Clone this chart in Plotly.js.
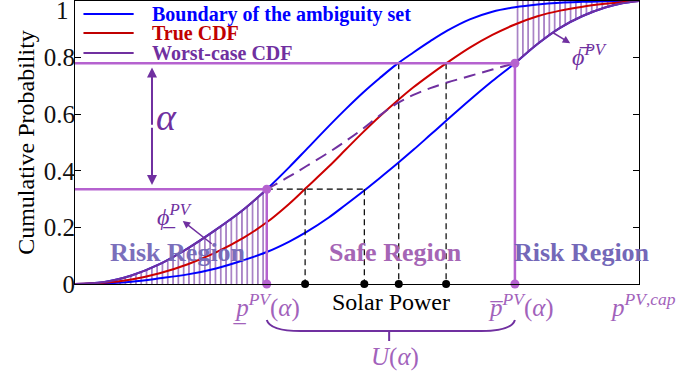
<!DOCTYPE html>
<html><head><meta charset="utf-8">
<script src="https://cdn.plot.ly/plotly-3.0.1.min.js"></script>
<style>html,body{margin:0;padding:0;background:#fff}#chart{width:681px;height:375px}</style>
</head><body><div id="chart"></div>
<script>
// ---- data ----
const powerGrid  = [0,5,10,15,20,25,30,34,38,41,45,48,51,54,57,60,63,66,70,74,78,82,86,90,94,97,100];
const upperBound = [0,0.006,0.03,0.07,0.126,0.192,0.265,0.335,0.413,0.475,0.558,0.618,0.675,0.727,0.776,0.818,0.858,0.895,0.935,0.962,0.978,0.988,0.994,0.997,0.999,1,1];
const trueCdf    = [0,0.004,0.016,0.038,0.07,0.112,0.165,0.218,0.284,0.34,0.415,0.475,0.535,0.592,0.645,0.695,0.74,0.782,0.835,0.88,0.917,0.946,0.966,0.98,0.99,0.996,1];
const lowerBound = [0,0.002,0.008,0.02,0.034,0.055,0.085,0.113,0.15,0.183,0.235,0.28,0.326,0.374,0.423,0.474,0.527,0.58,0.65,0.717,0.78,0.848,0.905,0.947,0.977,0.992,1];
const worstX     = [34,38,41,45,48,51,54,57,60,63,66,70,74,78];
const worstMid   = [0.335,0.38,0.416,0.465,0.505,0.548,0.595,0.637,0.668,0.692,0.712,0.735,0.758,0.78];
const alphaLow = 0.335, alphaHigh = 0.78;
const pLow = 34, pHigh = 78, pCap = 100;
const guideX     = [40.8, 51.3, 57.4, 65.8];
const guideLevel = [0.335, 0.335, 0.78, 0.78];
const yTickVals  = [0, 0.2, 0.4, 0.6, 0.8, 1];
const yTickText  = ['0', '0.2', '0.4', '0.6', '0.8', '1'];
const legendNames = ['Boundary of the ambiguity set', 'True CDF', 'Worst-case CDF'];

// ---- styles ----
const SERIF = '"Liberation Serif", "Times New Roman", serif';
const BLUE = '#0000ff', RED = '#cc0000', PURPLE = '#7030a0', ORCHID = '#b562cf';
const RISK = '#7468b8', SAFE = '#a565b5', LABEL = '#a262bb';
const legendColors = ['#0000ff', '#c00000', '#7030a0'];
const UNDER = '\u0332', OVER = '\u0305';

const iLow = powerGrid.indexOf(pLow), iHigh = powerGrid.indexOf(pHigh);
const leftX = powerGrid.slice(0, iLow + 1), leftY = upperBound.slice(0, iLow + 1);
const rightX = powerGrid.slice(iHigh), rightY = lowerBound.slice(iHigh);
const topEdge = rightX.map(() => yTickVals[yTickVals.length - 1]);

const hatch = {shape: '|', size: 5.3, solidity: 0.2, fgcolor: PURPLE, fgopacity: 1, bgcolor: 'rgba(0,0,0,0)'};
const sp = {shape: 'spline', smoothing: 1};

const gx = [], gy = [];
guideX.forEach((g, i) => { gx.push(g, g, null); gy.push(guideLevel[i], 0, null); });

const traces = [
  {x: leftX, y: leftY, mode: 'lines', line: Object.assign({width: 0}, sp), fill: 'tozeroy',
   fillcolor: 'rgba(0,0,0,0)', fillpattern: hatch, hoverinfo: 'skip'},
  {x: rightX.concat(rightX.slice().reverse()), y: rightY.concat(topEdge), mode: 'lines',
   line: {width: 0}, fill: 'toself', fillcolor: 'rgba(0,0,0,0)', fillpattern: hatch, hoverinfo: 'skip'},
  {x: powerGrid, y: upperBound, mode: 'lines', line: Object.assign({color: BLUE, width: 2}, sp)},
  {x: powerGrid, y: lowerBound, mode: 'lines', line: Object.assign({color: BLUE, width: 2}, sp)},
  {x: powerGrid, y: trueCdf, mode: 'lines', line: Object.assign({color: RED, width: 2}, sp)},
  {x: leftX, y: leftY, mode: 'lines', line: Object.assign({color: PURPLE, width: 2}, sp)},
  {x: rightX, y: rightY, mode: 'lines', line: Object.assign({color: PURPLE, width: 2}, sp)},
  {x: worstX, y: worstMid, mode: 'lines', line: Object.assign({color: PURPLE, width: 2, dash: '12px,7px'}, sp)},
  {x: gx, y: gy, mode: 'lines', line: {color: '#000', width: 1.2, dash: '6px,4px'}},
  {x: [pLow, guideX[1]], y: [alphaLow, alphaLow], mode: 'lines', line: {color: '#000', width: 1.2, dash: '6px,4px'}},
  {x: [0, pLow, pLow], y: [alphaLow, alphaLow, 0], mode: 'lines', line: {color: ORCHID, width: 2.5}},
  {x: [0, pHigh, pHigh], y: [alphaHigh, alphaHigh, 0], mode: 'lines', line: {color: ORCHID, width: 2.5}},
  {x: guideX, y: guideX.map(() => 0), mode: 'markers', marker: {color: '#000', size: 8}, cliponaxis: false},
  {x: [pLow, pLow, pHigh, pHigh], y: [alphaLow, 0, alphaHigh, 0], mode: 'markers',
   marker: {color: ORCHID, size: 9}, cliponaxis: false}
];
traces.forEach(t => { t.showlegend = false; });

const annotations = [];
const shapes = [];

// legend (manual)
const legY = [0.954, 0.887, 0.816];
legendNames.forEach((n, i) => {
  shapes.push({type: 'line', xref: 'paper', yref: 'paper', x0: 0.015, x1: 0.104, y0: legY[i], y1: legY[i],
               line: {color: legendColors[i], width: 2}});
  annotations.push({xref: 'paper', yref: 'paper', x: 0.133, y: legY[i], xanchor: 'left', yanchor: 'middle',
               showarrow: false, text: '<b>' + n + '</b>', font: {family: SERIF, size: 20, color: legendColors[i]}});
});

// "1" tick label (kept inside the canvas)
annotations.push({xref: 'paper', yref: 'y', x: 0, y: 1, xanchor: 'right', yanchor: 'middle', xshift: -4, yshift: -9,
  showarrow: false, text: yTickText[yTickText.length - 1], font: {family: SERIF, size: 25, color: '#111'}});

// alpha double arrow
const amid = (alphaLow + alphaHigh) / 2;
annotations.push({x: 13.65, y: alphaHigh - 0.015, ax: 13.65, ay: amid, axref: 'x', ayref: 'y', text: '',
  showarrow: true, arrowhead: 2, arrowsize: 1, arrowwidth: 2, arrowcolor: PURPLE});
annotations.push({x: 13.65, y: alphaLow + 0.015, ax: 13.65, ay: amid, axref: 'x', ayref: 'y', text: '',
  showarrow: true, arrowhead: 2, arrowsize: 1, arrowwidth: 2, arrowcolor: PURPLE});
annotations.push({x: 16.3, y: 0.59, showarrow: false, text: '<i>α</i>', font: {family: SERIF, size: 38, color: PURPLE}});

// phi labels + arrows
annotations.push({x: 19.1, y: 0.223, ax: 24.5, ay: 0.138, axref: 'x', ayref: 'y', text: '', showarrow: true,
  arrowhead: 2, arrowsize: 1, arrowwidth: 1.5, arrowcolor: PURPLE});
annotations.push({x: 17.7, y: 0.245, showarrow: false, text: '<i>ϕ' + UNDER + '</i><sup><i>PV</i></sup>',
  font: {family: SERIF, size: 24, color: PURPLE}});
annotations.push({x: 87.8, y: 0.851, ax: 84.5, ay: 0.891, axref: 'x', ayref: 'y', text: '', showarrow: true,
  arrowhead: 2, arrowsize: 1, arrowwidth: 1.5, arrowcolor: PURPLE});
annotations.push({x: 91.3, y: 0.81, showarrow: false, text: '<i>ϕ' + OVER + '</i><sup><i>PV</i></sup>',
  font: {family: SERIF, size: 24, color: PURPLE}});

// region labels
annotations.push({x: 18.3, y: 0.11, showarrow: false, text: '<b>Risk Region</b>', opacity: 0.95,
  font: {family: SERIF, size: 26, color: RISK}});
annotations.push({x: 56.9, y: 0.113, showarrow: false, text: '<b>Safe Region</b>',
  font: {family: SERIF, size: 26, color: SAFE}});
annotations.push({x: 89.9, y: 0.113, showarrow: false, text: '<b>Risk Region</b>',
  font: {family: SERIF, size: 26, color: RISK}});

// below-axis labels (paper y: plot area bottom = 0)
const yb = -0.012;
annotations.push({x: pLow, yref: 'paper', y: yb, yanchor: 'top', showarrow: false,
  text: '<i>p' + UNDER + '</i><sup><i>PV</i></sup>(<i>α</i>)', font: {family: SERIF, size: 25, color: LABEL}});
annotations.push({x: 56.0, yref: 'paper', y: yb, yanchor: 'top', showarrow: false, text: 'Solar Power',
  font: {family: SERIF, size: 24, color: '#000'}});
annotations.push({x: pHigh + 1, yref: 'paper', y: yb, yanchor: 'top', showarrow: false,
  text: '<i>p' + OVER + '</i><sup><i>PV</i></sup>(<i>α</i>)', font: {family: SERIF, size: 25, color: LABEL}});
annotations.push({x: pCap, yref: 'paper', y: yb, yanchor: 'top', xanchor: 'left', xshift: -31, showarrow: false,
  text: '<i>p</i><sup><i>PV</i>,<i>cap</i></sup>', font: {family: SERIF, size: 25, color: LABEL}});
annotations.push({x: 56.7, yref: 'paper', y: -0.258, yanchor: 'middle', showarrow: false, text: '<i>U</i>(<i>α</i>)',
  font: {family: SERIF, size: 25, color: LABEL}});

// brace under U(alpha)
const bTop = -0.127, bMid = -0.166, bTip = -0.201, bCenter = 55.7;
shapes.push({type: 'path', xref: 'x', yref: 'paper', layer: 'above',
  path: `M${pLow},${bTop} Q${pLow + 0.6},${bMid} ${pLow + 6},${bMid} L${pHigh - 6},${bMid} Q${pHigh - 0.6},${bMid} ${pHigh},${bTop} M${bCenter},${bMid} L${bCenter},${bTip}`,
  line: {color: PURPLE, width: 2}});

const layout = {
  width: 681, height: 375,
  margin: {l: 75, r: 42, t: 1, b: 91, pad: 0},
  paper_bgcolor: '#fff', plot_bgcolor: '#fff',
  showlegend: false,
  font: {family: SERIF, color: '#000'},
  xaxis: {range: [0, 100], showticklabels: false, ticks: '', showgrid: false, zeroline: false,
          showline: true, mirror: true, linecolor: '#000', linewidth: 1, fixedrange: true},
  yaxis: {range: [0, 1], tickvals: yTickVals, ticktext: yTickText.slice(0, -1).concat(['']),
          ticks: 'inside', ticklen: 6, tickcolor: '#000', showgrid: false, zeroline: false,
          showline: true, mirror: 'ticks', linecolor: '#000', linewidth: 1, ticklabelstandoff: -6,
          tickfont: {family: SERIF, size: 25, color: '#111'},
          title: {text: 'Cumulative Probability', font: {family: SERIF, size: 24, color: '#000'}, standoff: 2},
          fixedrange: true},
  annotations: annotations,
  shapes: shapes
};

Plotly.newPlot('chart', traces, layout, {displayModeBar: false, staticPlot: true});
</script>
</body></html>
